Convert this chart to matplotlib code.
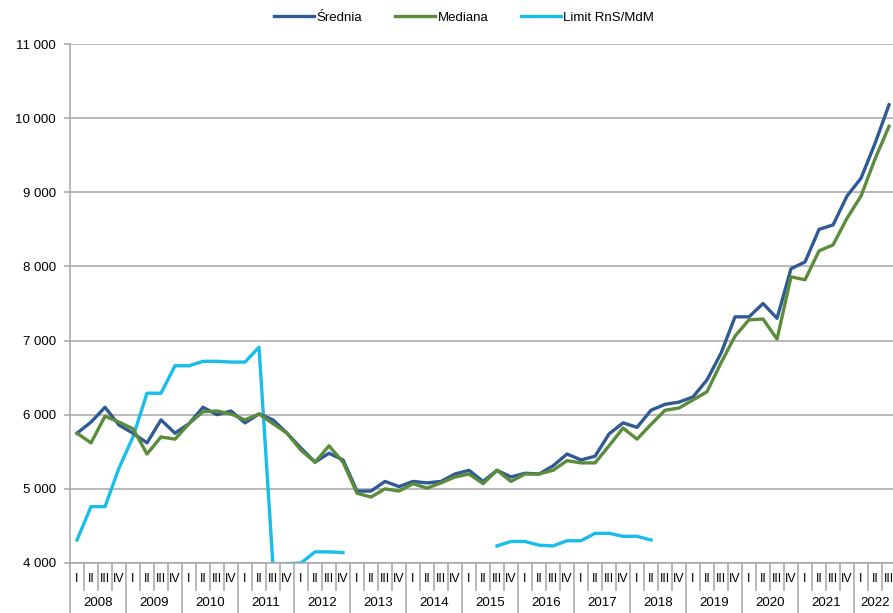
import numpy as np
import matplotlib
matplotlib.use("Agg")
import matplotlib.pyplot as plt
from matplotlib.ticker import FuncFormatter, FixedLocator

plt.rcParams["font.family"] = ["Liberation Sans", "DejaVu Sans"]

years = [str(y) for y in range(2008, 2023)]
quarter_names = ["I", "II", "III", "IV"]
# 2008 Q1 .. 2022 Q3
n_quarters = 59

srednia = [5750, 5900, 6100, 5860, 5750, 5620, 5930, 5750, 5880, 6100,
           6000, 6050, 5890, 6010, 5930, 5750, 5550, 5360, 5480, 5390,
           4970, 4970, 5100, 5030, 5100, 5080, 5100, 5200, 5250, 5100,
           5250, 5160, 5210, 5200, 5310, 5470, 5390, 5440, 5740, 5890,
           5830, 6060, 6140, 6170, 6240, 6470, 6830, 7320, 7320, 7500,
           7300, 7970, 8060, 8500, 8560, 8950, 9190, 9660, 10180]

mediana = [5750, 5620, 5980, 5900, 5810, 5470, 5700, 5670, 5880, 6040,
           6050, 6010, 5930, 6010, 5880, 5750, 5520, 5360, 5580, 5360,
           4940, 4890, 5000, 4970, 5070, 5010, 5080, 5160, 5200, 5070,
           5250, 5100, 5200, 5200, 5250, 5380, 5350, 5350, 5580, 5820,
           5670, 5870, 6060, 6090, 6200, 6310, 6700, 7060, 7280, 7290,
           7020, 7860, 7820, 8210, 8290, 8650, 8950, 9450, 9890]

nan = np.nan
limit = [4310, 4760, 4760, 5280, 5700, 6290, 6290, 6660, 6660, 6720,
         6720, 6710, 6710, 6910, 3960, 3990, 4000, 4150, 4150, 4140,
         nan, nan, nan, nan, nan, nan, nan, nan, nan, nan,
         4230, 4290, 4290, 4240, 4230, 4300, 4300, 4400, 4400, 4360,
         4360, 4310, nan, nan, nan, nan, nan, nan, nan, nan,
         nan, nan, nan, nan, nan, nan, nan, nan, nan]

x = np.arange(n_quarters) + 0.5
grid_col = "#A6A6A6"

fig = plt.figure(figsize=(8.93, 6.13), dpi=100)
ax = fig.add_axes([0.0784, 0.0816, 0.925, 0.8466])

ax.plot(x, srednia, color="#2F5A94", lw=2.4, label="Średnia", zorder=3)
ax.plot(x, mediana, color="#5B8C3B", lw=2.4, label="Mediana", zorder=4)
ax.plot(x, limit, color="#19BDEC", lw=2.4, label="Limit RnS/MdM", zorder=2)

ax.set_xlim(0, n_quarters)
ax.set_ylim(4000, 11000)
ax.set_yticks(range(4000, 11001, 1000))
ax.yaxis.set_major_formatter(FuncFormatter(lambda v, p: f"{int(v):,}".replace(",", " ")))
ax.grid(axis="y", color=grid_col, lw=1.1)
ax.set_axisbelow(True)

for s in ["top", "right"]:
    ax.spines[s].set_visible(False)
for s in ["left", "bottom"]:
    ax.spines[s].set_color(grid_col)
    ax.spines[s].set_linewidth(1.1)

ax.tick_params(axis="y", colors=grid_col, length=4, width=1.1, labelcolor="black",
               labelsize=9.5, pad=6)

# two-level x axis: quarter separators (minor) and year separators (major)
year_edges = list(range(0, n_quarters, 4)) + [n_quarters]
ax.xaxis.set_major_locator(FixedLocator(year_edges))
ax.xaxis.set_minor_locator(FixedLocator(range(n_quarters + 1)))
ax.tick_params(axis="x", which="major", length=40, width=1.1, colors=grid_col,
               labelbottom=False)
ax.tick_params(axis="x", which="minor", length=20, width=1.1, colors=grid_col)

trans = ax.get_xaxis_transform()
for i in range(n_quarters):
    ax.text(i + 0.5, -0.03, quarter_names[i % 4], transform=trans,
            ha="center", va="center", fontsize=8.8)
for k, yr in enumerate(years):
    start = 4 * k
    end = min(start + 4, n_quarters)
    ax.text((start + end) / 2, -0.077, yr, transform=trans,
            ha="center", va="center", fontsize=9.5, clip_on=False)

fig.legend(loc="upper center", bbox_to_anchor=(0.52, 1.0), ncol=3, frameon=False,
           fontsize=9.5, handlelength=3.0, handletextpad=0.2, columnspacing=2.5)

fig.savefig("out.png", dpi=100)
